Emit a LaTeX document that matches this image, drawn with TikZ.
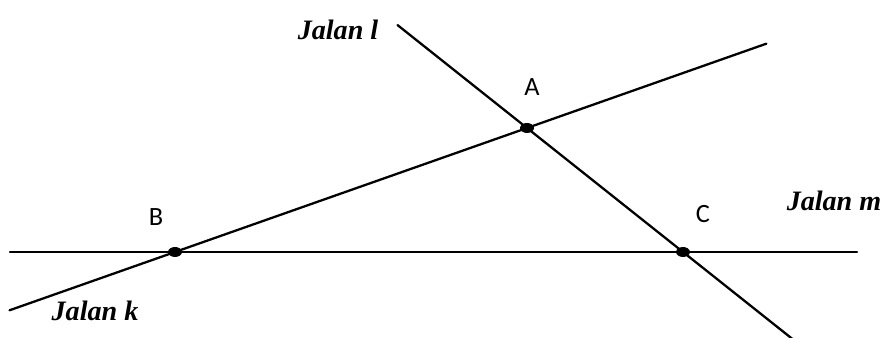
\documentclass[tikz,border=0pt]{standalone}
\usepackage{fontspec}
\setmainfont{Liberation Serif}
\newfontfamily\labelfont{Carlito}
\usepackage{tikz}
\usetikzlibrary{calc, positioning}

\tikzset{
    jalan/.style={line width=1.3pt, line cap=round},
    titik/.style={fill=black},
    namajalan/.style={font=\fontsize{16}{18}\selectfont\bfseries\itshape},
    namatitik/.style={font=\fontsize{15}{17}\selectfont\labelfont}
}

\begin{document}
\begin{tikzpicture}

    % =================================================================
    % 1. BATAS GAMBAR DAN TITIK-TITIK UTAMA
    % =================================================================
    \useasboundingbox (0,0) rectangle (17.70,6.76);
    \coordinate (A) at (10.54,4.20);
    \coordinate (B) at (3.50,1.72);
    \coordinate (C) at (13.66,1.72);

    % Ujung-ujung ketiga jalan
    \coordinate (l1) at ($(A)!-0.83!(C)$);
    \coordinate (l2) at ($(A)!1.71!(C)$);
    \coordinate (k1) at ($(B)!-0.47!(A)$);
    \coordinate (k2) at ($(B)!1.68!(A)$);
    \coordinate (m1) at (0.20,1.72);
    \coordinate (m2) at (17.14,1.72);

    % =================================================================
    % 2. GARIS JALAN
    % =================================================================
    \draw[jalan] (l1) -- (l2);
    \draw[jalan] (k1) -- (k2);
    \draw[jalan] (m1) -- (m2);

    % =================================================================
    % 3. TITIK PERSIMPANGAN
    % =================================================================
    \fill[titik] (A) ellipse (0.14 and 0.10);
    \fill[titik] (B) ellipse (0.14 and 0.10);
    \fill[titik] (C) ellipse (0.14 and 0.10);

    % =================================================================
    % 4. LABEL
    % =================================================================
    \node[namatitik] (labelA) at (10.64,5.02) {A};
    \node[namatitik] (labelB) at (3.12,2.42) {B};
    \node[namatitik] (labelC) at (14.06,2.48) {C};

    \node[namajalan] (jalanl) at (6.76,6.16) {Jalan l};
    \node[namajalan] (jalanm) at (16.68,2.74) {Jalan m};
    \node[namajalan] (jalank) at (1.90,0.54) {Jalan k};

\end{tikzpicture}
\end{document}
